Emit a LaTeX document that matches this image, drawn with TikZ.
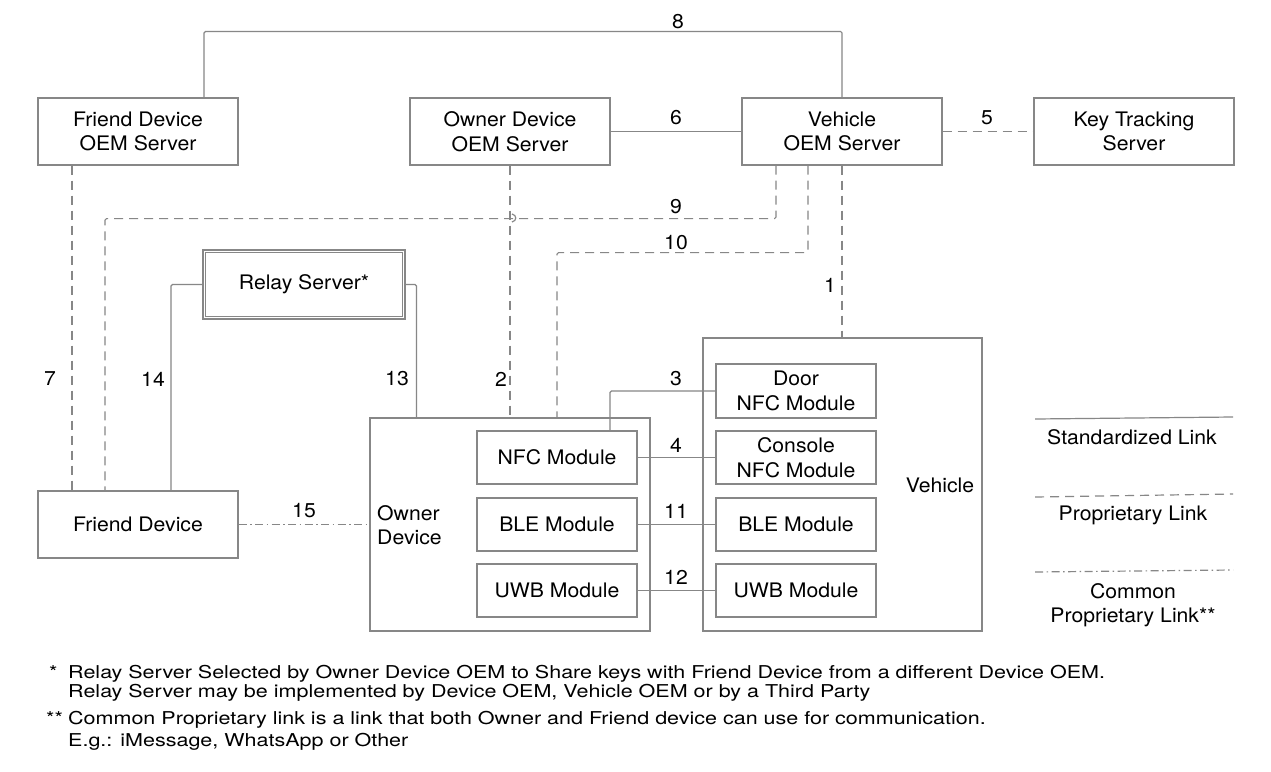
\documentclass[tikz,border=0pt]{standalone}
\usepackage{fontspec}
\setmainfont[FakeStretch=1.06]{TeX Gyre Heros}
\newfontfamily\notefont[FakeStretch=1.215]{TeX Gyre Heros}
\usetikzlibrary{calc}
\definecolor{lc}{RGB}{135,135,135}
\begin{document}
\begin{tikzpicture}[x=1pt,y=-1pt,
  box/.style={draw=lc,line width=1.2pt,minimum width=200pt,minimum height=67pt,align=center,inner sep=0pt,font=\fontsize{20}{24.5}\selectfont},
  mod/.style={box,minimum width=160pt,minimum height=53pt},
  std/.style={draw=lc,line width=1.2pt,rounded corners=1.5pt},
  prop/.style={std,dash pattern=on 9pt off 6pt},
  cprop/.style={std,dash pattern=on 8pt off 3.5pt on 1.5pt off 3.5pt},
  lbl/.style={inner sep=0pt,font=\fontsize{20}{24.5}\selectfont},
  note/.style={inner sep=0pt,anchor=base west,font=\notefont\fontsize{17.7}{22}\selectfont}]
\fill[white] (0,0) rectangle (1271,771);
\useasboundingbox (0,0) rectangle (1271,771);

% servers
\node[box] (fos) at (138,131.5) {Friend Device\\OEM Server};
\node[box] (oos) at (510,131.5) {Owner Device\\OEM Server};
\node[box] (vos) at (842,131.5) {Vehicle\\OEM Server};
\node[box] (kts) at (1134,131.5) {Key Tracking\\Server};
\node[box,minimum width=202pt,minimum height=69pt] (relay) at (304,284.5) {Relay Server*};
\draw[lc,line width=1.2pt] ([shift={(3,3)}]relay.north west) rectangle ([shift={(-3,-3)}]relay.south east);

% devices
\node[box] (fd) at (138,524.5) {Friend Device};
\node[box,minimum width=280pt,minimum height=213pt] (od) at (510,524.5) {};
\node[lbl,anchor=west,align=left] (odl) at (377,525) {Owner\\Device};
\node[box,minimum width=279pt,minimum height=293pt] (veh) at (842.5,484.5) {};
\node[lbl] (vehl) at (940,485) {Vehicle};

\node[mod] (nfc) at (557,457.5) {NFC Module};
\node[mod] (oble) at (557,524.5) {BLE Module};
\node[mod] (ouwb) at (557,590.5) {UWB Module};
\node[mod,minimum height=54pt] (door) at (796,391) {Door\\NFC Module};
\node[mod] (cnfc) at (796,457.5) {Console\\NFC Module};
\node[mod] (vble) at (796,524.5) {BLE Module};
\node[mod] (vuwb) at (796,590.5) {UWB Module};

% links
\draw[std] ($(fos.north)+(66,0)$) -- ++(0,-66) -| (vos.north);
\draw[std] (oos.east) -- (vos.west);
\draw[prop] (vos.east) -- (kts.west);
\draw[prop] ($(fos.south)+(-66,0)$) -- ($(fd.north)+(-66,0)$);
\draw[prop] ($(vos.south)+(-66,0)$) -- ++(0,53) -| ($(fd.north)+(-33,0)$);
\draw[std] (512,214) .. controls (517,215) and (517,221) .. (512,222);
\draw[prop] ($(vos.south)+(-34,0)$) -- ++(0,87) -| (nfc.north |- od.north);
\draw[prop] (vos.south) -- (vos.south |- veh.north);
\draw[prop] (oos.south) -- (oos.south |- od.north);
\draw[std] (relay.west) -| ($(fd.north)+(33,0)$);
\draw[std] (relay.east) -| ($(od.north west)+(47,0)$);
\draw[cprop] (fd.east) -- (od.west);
\draw[std] ($(nfc.north)+(53,0)$) |- (door.west);
\draw[std] (nfc.east) -- (cnfc.west);
\draw[std] (oble.east) -- (vble.west);
\draw[std] (ouwb.east) -- (vuwb.west);

% link labels
\node[lbl] at (678,22) {8};
\node[lbl] at (676,118) {6};
\node[lbl] at (987,118) {5};
\node[lbl] at (676,207) {9};
\node[lbl] at (676,243) {10};
\node[lbl] at (830,285) {1};
\node[lbl] at (50,379) {7};
\node[lbl] at (153,379) {14};
\node[lbl] at (397,379) {13};
\node[lbl] at (501,379) {2};
\node[lbl] at (304,511) {15};
\node[lbl] at (676,379) {3};
\node[lbl] at (676,445) {4};
\node[lbl] at (676,511) {11};
\node[lbl] at (676,577) {12};

% legend
\coordinate (l1a) at (1035,419); \coordinate (l1b) at (1233,417);
\coordinate (l2a) at (1035,497); \coordinate (l2b) at (1233,494);
\coordinate (l3a) at (1035,572); \coordinate (l3b) at (1233,570);
\draw[std] (l1a) -- (l1b);
\draw[prop] (l2a) -- (l2b);
\draw[cprop] (l3a) -- (l3b);
\node[lbl] at (1132,437) {Standardized Link};
\node[lbl] at (1133,515) {Proprietary Link};
\node[lbl,align=center] at (1133,605) {Common\\Proprietary Link**};

% footnotes
\node[note] at (49,678) {*};
\node[note] at (68,678) {Relay Server Selected by Owner Device OEM to Share keys with Friend Device from a different Device OEM.};
\node[note] at (68,697.5) {Relay Server may be implemented by Device OEM, Vehicle OEM or by a Third Party};
\node[note] at (46,724.5) {**};
\node[note] at (68,724.5) {Common Proprietary link is a link that both Owner and Friend device can use for communication.};
\node[note] at (68,746) {E.g.: iMessage, WhatsApp or Other};
\end{tikzpicture}
\end{document}
